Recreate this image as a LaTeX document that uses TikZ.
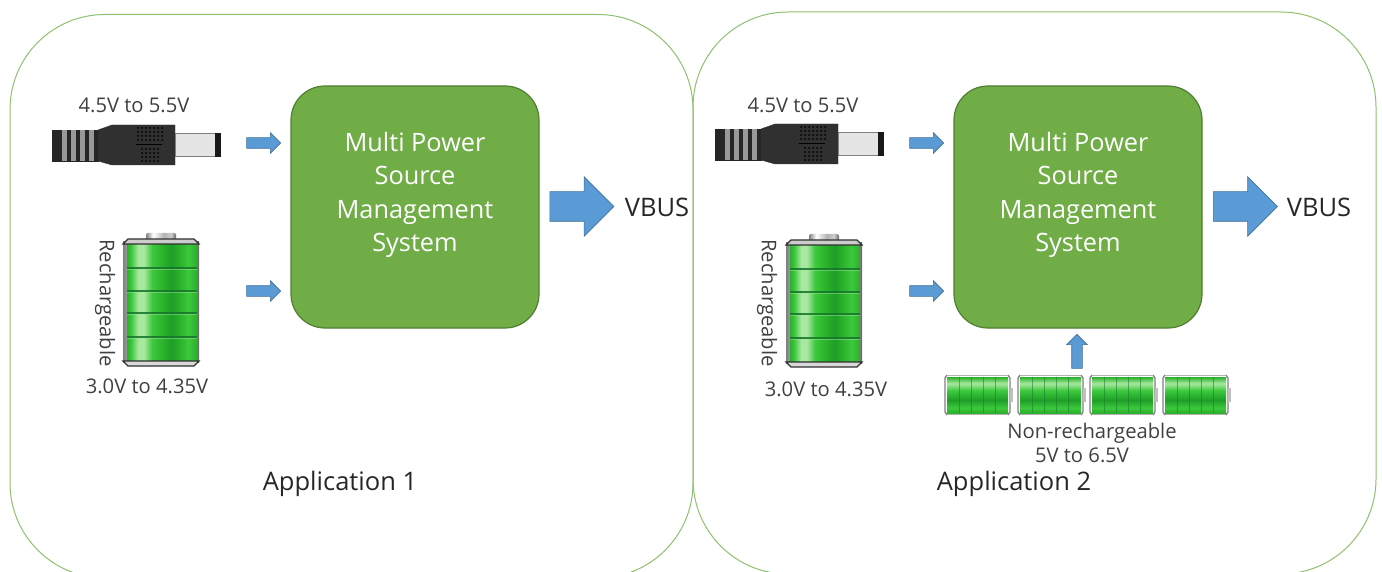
\documentclass[tikz,border=0pt]{standalone}
\usepackage{fontspec}
\setmainfont{Open Sans}
\usetikzlibrary{shapes.arrows}
\definecolor{panelgreen}{HTML}{8FBF70}
\definecolor{blockgreen}{HTML}{70AD47}
\definecolor{blockedge}{HTML}{507E32}
\definecolor{arrowblue}{HTML}{5B9BD5}
\definecolor{arrowedge}{HTML}{41719C}
\definecolor{labelgray}{HTML}{404040}
\definecolor{rimdark}{HTML}{303030}
\definecolor{celldark}{HTML}{14752A}
\definecolor{celllight}{HTML}{A8E8A0}
\definecolor{cellmid}{HTML}{3CC83C}
\definecolor{cellshadow}{HTML}{1E9E28}
\definecolor{celledge}{HTML}{2AB02A}
\pgfdeclarehorizontalshading{cellgreen}{100bp}{color(0bp)=(celledge); color(25bp)=(celledge); color(28bp)=(cellmid); color(33bp)=(celllight); color(37bp)=(celllight); color(43bp)=(cellmid); color(51bp)=(celledge); color(57bp)=(cellshadow); color(62bp)=(celledge); color(69bp)=(cellmid); color(75bp)=(celledge); color(100bp)=(celledge)}
\pgfdeclareverticalshading{cellgreenrow}{100bp}{color(0bp)=(celledge); color(25bp)=(celledge); color(32bp)=(cellmid); color(43bp)=(cellshadow); color(56bp)=(cellmid); color(66bp)=(celllight); color(75bp)=(celledge); color(100bp)=(celledge)}
\pgfdeclarehorizontalshading{rimgray}{100bp}{color(0bp)=(gray); color(25bp)=(gray); color(37bp)=(white); color(55bp)=(gray!60); color(67bp)=(gray!40); color(75bp)=(black!60); color(100bp)=(black!60)}
\tikzset{
   panel/.style={draw=panelgreen,line width=1pt,rounded corners=95pt},
   block/.style={draw=blockedge,line width=1.2pt,fill=blockgreen,rounded corners=34pt,minimum width=248pt,minimum height=242pt,inner sep=0pt},
   blocktext/.style={text=white,font=\fontsize{25.3}{33.4}\selectfont,align=center},
   smallarrow/.style={shape=single arrow,draw=arrowedge,line width=0.6pt,fill=arrowblue,inner xsep=0pt,inner ysep=5pt,minimum height=34pt,minimum width=20pt,single arrow head extend=5pt,single arrow head indent=0pt},
   bigarrow/.style={shape=single arrow,draw=arrowedge,line width=0.6pt,fill=arrowblue,inner xsep=0pt,inner ysep=14.5pt,minimum height=64pt,minimum width=59pt,single arrow head extend=15pt,single arrow head indent=0pt},
   label/.style={text=labelgray,font=\fontsize{20.2}{24}\selectfont,inner sep=0pt},
   biglabel/.style={text=black!85,font=\fontsize{25.5}{30}\selectfont,inner sep=0pt},
   pics/plug/.style={code={
      % strain relief
      \filldraw[black!85] (0,5) rectangle (46,36);
      \foreach \i in {10,19,28,37} {
         \fill[gray!80] (\i,5) rectangle ++(5,31);
      }
      % collar
      \filldraw[rimdark] (46,5) -- (60,0) -- (123,0) -- (123,40) -- (60,40) -- (46,36) -- cycle;
      \foreach \i in {86,90,...,110} {
         \foreach \j in {3,7,...,18} {
            \fill[black] (\i,\j) circle (1pt);
         }
      }
      \foreach \j in {24,28,...,36} {
         \foreach \i in {90,94,...,108} {
            \fill[black] (\i,\j) circle (1pt);
         }
      }
      \draw[black,line width=1pt] (84,20) -- (110,20);
      % pin
      \filldraw[draw=gray,fill=gray!20] (123,8) rectangle (163,31);
      \fill[black!90] (163,8) rectangle (169,32);
   }},
   pics/battery/.style={code={
      \shade[shading=rimgray,rounded corners=2pt] (-15,-67) rectangle (15,-58);
      \shade[shading=rimgray] (-38,-58) rectangle (38,62);
      \shade[shading=cellgreen] (-34,-55) rectangle (36,60);
      \foreach \j in {-33,-10,12,36} {
         \fill[celldark,opacity=0.85] (-34,\j) rectangle (36,\j+1.6);
         \fill[celllight,opacity=0.45] (-34,\j+1.6) rectangle (36,\j+3.2);
      }
      \filldraw[draw=rimdark,fill=gray!40,line width=1.2pt] (-38,-56) -- (-33,-61) -- (33,-61) -- (38,-56) -- cycle;
      \filldraw[draw=rimdark,fill=gray!30,line width=1.2pt] (-38,61) -- (-33,66) -- (33,66) -- (38,61) -- cycle;
   }},
   pics/cellbattery/.style={code={
      \shade[shading=cellgreenrow] (2,2) rectangle (63,38);
      \foreach \i in {14,26,38,50} {
         \fill[celldark,opacity=0.5] (\i,2) rectangle ++(1.2,36);
      }
      \draw[gray,line width=1.3pt] (2,0) -- (0,3) -- (0,37) -- (2,40);
      \draw[gray,line width=1.3pt] (63,0) -- (65,3) -- (65,37) -- (63,40);
      \draw[gray!60,line width=0.8pt] (2,0.5) -- (63,0.5);
      \draw[gray!60,line width=0.8pt] (2,39.5) -- (63,39.5);
      \fill[gray!50] (65,13) rectangle (68,27);
   }},
}
\begin{document}
\begin{tikzpicture}[x=1pt,y=-1pt]
   \useasboundingbox (0,0) rectangle (1382,572);
   \begin{scope}
      \clip (0,0) rectangle (1382,572);
      \draw[panel] (10,14.5) rectangle (693,578);
      \draw[panel] (693,12) rectangle (1376,574);
   \end{scope}

   % Application 1
   \pic at (52,125) {plug};
   \pic at (161,300) {battery};
   \node[label] (plugvolt1) at (134,105) {4.5V to 5.5V};
   \node[label,rotate=-90] (recharge1) at (105,303) {Rechargeable};
   \node[label] (battvolt1) at (147,386) {3.0V to 4.35V};
   \node[smallarrow] (plugarrow1) at (261,143) {};
   \node[smallarrow] (battarrow1) at (261,291) {};
   \node[block] (block1) at (415,207) {};
   \node[blocktext] (blocktext1) at (415,195) {Multi Power\\Source\\Management\\System};
   \node[bigarrow] (outarrow1) at (574.5,206.5) {};
   \node[biglabel] (vbus1) at (657,207) {VBUS};
   \node[biglabel] (app1) at (340,484) {Application 1};

   % Application 2
   \pic at (715,124) {plug};
   \pic at (824,301) {battery};
   \node[label] (plugvolt2) at (803,105) {4.5V to 5.5V};
   \node[label,rotate=-90] (recharge2) at (767,303) {Rechargeable};
   \node[label] (battvolt2) at (826,389) {3.0V to 4.35V};
   \node[smallarrow] (plugarrow2) at (924,143) {};
   \node[smallarrow] (battarrow2) at (924,291) {};
   \node[block] (block2) at (1078,207) {};
   \node[blocktext] (blocktext2) at (1078,195) {Multi Power\\Source\\Management\\System};
   \node[bigarrow] (outarrow2) at (1238,206.5) {};
   \node[biglabel] (vbus2) at (1319,207) {VBUS};
   \foreach \i in {945,1018,1090,1163} {
      \pic at (\i,375) {cellbattery};
   }
   \node[smallarrow,rotate=90] (cellarrow) at (1077,354) {};
   \node[label] (cells) at (1092,433) {Non-rechargeable};
   \node[label] (cellvolt) at (1082,455) {5V to 6.5V};
   \node[biglabel] (app2) at (1014,484) {Application 2};
\end{tikzpicture}
\end{document}
